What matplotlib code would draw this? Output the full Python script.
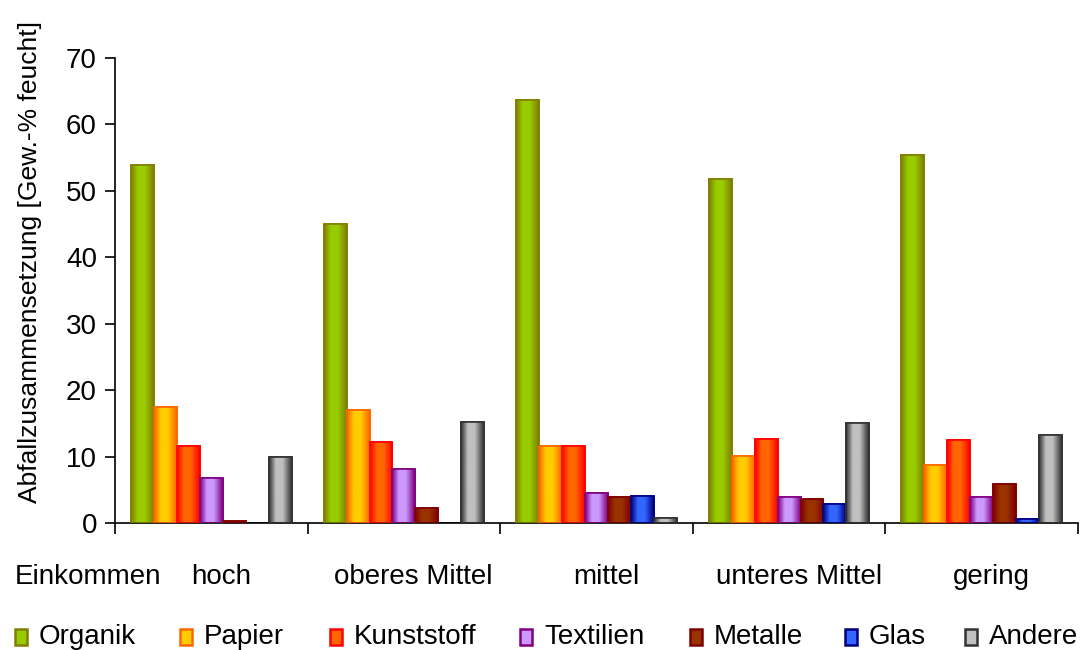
import numpy as np
import matplotlib
matplotlib.use("Agg")
import matplotlib.pyplot as plt
from matplotlib.colors import LinearSegmentedColormap
from matplotlib.patches import Rectangle

plt.rcParams['font.family'] = ['Liberation Sans', 'DejaVu Sans']

categories = ["hoch", "oberes Mittel", "mittel", "unteres Mittel", "gering"]
series_names = ["Organik", "Papier", "Kunststoff", "Textilien", "Metalle", "Glas", "Andere"]
organik    = [53.9, 45.0, 63.7, 51.8, 55.4]
papier     = [17.5, 17.0, 11.6, 10.1, 8.7]
kunststoff = [11.6, 12.2, 11.6, 12.6, 12.5]
textilien  = [6.8, 8.1, 4.5, 3.9, 3.9]
metalle    = [0.3, 2.3, 3.9, 3.6, 5.9]
glas       = [0.0, 0.0, 4.1, 2.9, 0.6]
andere     = [9.9, 15.2, 0.75, 15.1, 13.3]
series_values = [organik, papier, kunststoff, textilien, metalle, glas, andere]

edge_colors = ["#808000", "#ff6600", "#ff0000", "#800080", "#800000", "#000080", "#333333"]
center_colors = ["#99cc00", "#ffcc00", "#ff6600", "#cc99ff", "#993300", "#3366ff", "#c0c0c0"]

W, H = 1085, 650
fig = plt.figure(figsize=(W / 100, H / 100), dpi=100)
ax = fig.add_axes([0.106, 0.195, 0.8875, 0.716])

n = len(series_names)
bw = 0.119
x = np.arange(len(categories))
offsets = (np.arange(n) - (n - 1) / 2) * bw

for i in range(n):
    ec, cc = edge_colors[i], center_colors[i]
    cmap = LinearSegmentedColormap.from_list(
        "g%d" % i, [(0, ec), (0.3, cc), (0.6, cc), (1.0, ec)])
    grad = np.linspace(0, 1, 64).reshape(1, -1)
    bars = ax.bar(x + offsets[i], series_values[i], width=bw,
                  facecolor=cc, edgecolor=ec, linewidth=1.2, zorder=2)
    for b in bars:
        if b.get_height() <= 0:
            continue
        x0, y0 = b.get_x(), b.get_y()
        w, h = b.get_width(), b.get_height()
        im = ax.imshow(grad, cmap=cmap, aspect='auto',
                       extent=(x0, x0 + w, y0, y0 + h), zorder=2.5,
                       interpolation='bilinear')
        im.set_clip_path(b)
        r = Rectangle((x0, y0), w, h, fill=False, edgecolor=ec,
                      linewidth=1.2, zorder=3)
        ax.add_patch(r)

ax.set_xlim(-0.5, len(categories) - 0.5)
ax.set_ylim(0, 70)
ax.set_yticks(np.arange(0, 71, 10))
ax.tick_params(axis='y', labelsize=20, direction='out', length=7, width=1.2, pad=6)
ax.set_xticks(np.arange(-0.5, len(categories), 1.0))
ax.set_xticklabels([])
ax.tick_params(axis='x', direction='out', length=8, width=1.2)
for c, lab in zip(x, categories):
    ax.text(c + 0.05, -8.1, lab, ha='center', va='center', fontsize=20)
ax.text(-0.26, -8.1, "Einkommen", ha='right', va='center', fontsize=20)

ax.spines['top'].set_visible(False)
ax.spines['right'].set_visible(False)
ax.spines['left'].set_linewidth(1.2)
ax.spines['bottom'].set_linewidth(1.2)
fig.text(30 / W, 1 - 262 / H, "Abfallzusammensetzung [Gew.-% feucht]", fontsize=19,
         rotation=90, ha='center', va='center')

# legend, placed manually
leg_x = [15, 180, 330, 520, 690, 845, 965]
leg_y = 637
for i in range(n):
    mx = leg_x[i]
    fig.patches.append(Rectangle((mx / W, 1 - (leg_y + 8) / H), 12 / W, 16 / H,
                                 facecolor=center_colors[i], edgecolor=edge_colors[i],
                                 linewidth=1.8, transform=fig.transFigure, figure=fig))
    fig.text((mx + 24) / W, 1 - leg_y / H, series_names[i], fontsize=20,
             ha='left', va='center')

fig.savefig("out.png", dpi=100)
